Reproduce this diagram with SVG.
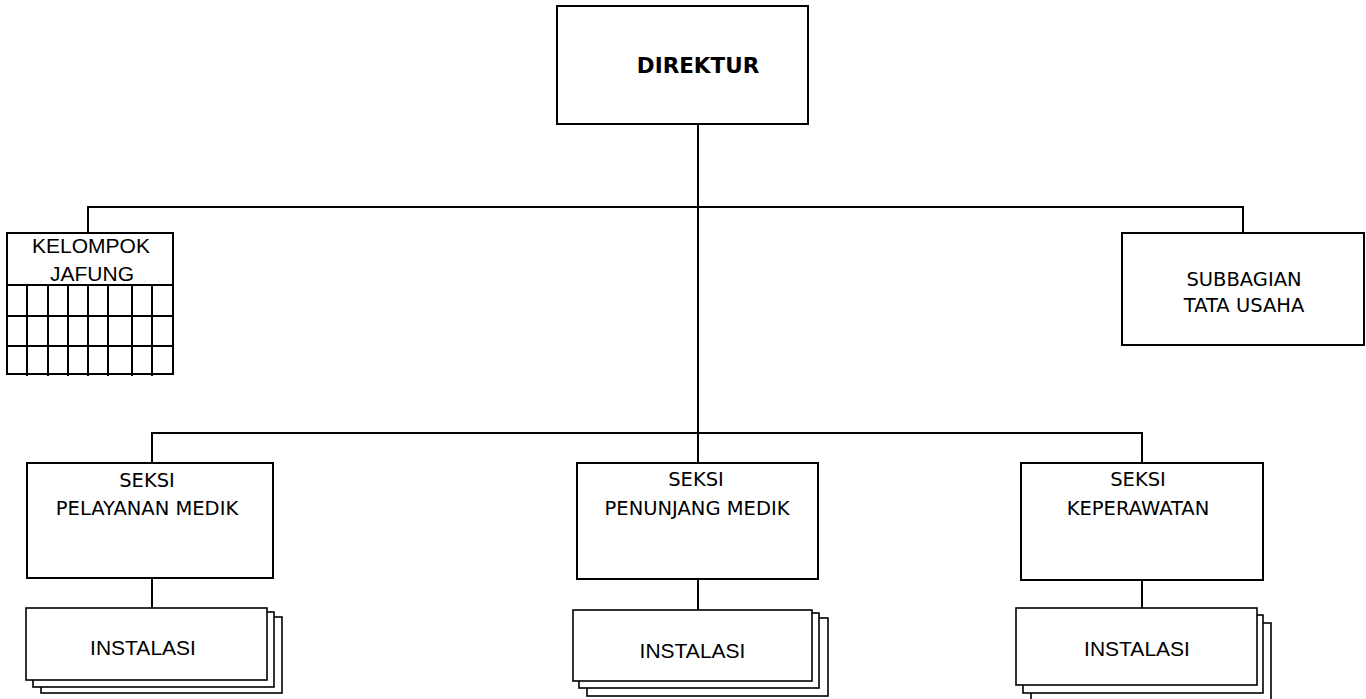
<svg xmlns="http://www.w3.org/2000/svg" width="1366" height="699" viewBox="0 0 1366 699">
<style>
.box{fill:#fff;stroke:#000;stroke-width:2}
.stk{fill:#fff;stroke:#000;stroke-width:1.6}
.ln{fill:none;stroke:#000;stroke-width:2}
.t{font-family:"DejaVu Sans",Verdana,sans-serif;font-size:19.5px;fill:#000;text-anchor:middle}
.tb{font-family:"DejaVu Sans",Verdana,sans-serif;font-size:21.5px;font-weight:bold;fill:#000;text-anchor:middle}
.a{font-family:"Liberation Sans",Arial,sans-serif;font-size:21px;fill:#000;text-anchor:middle}
</style>
<rect width="1366" height="699" fill="#fff"/>
<g id="connectors" class="ln">
<path d="M698 124V463"/>
<path d="M88 233V207H1243V233"/>
<path d="M152 463V433H1142V463"/>
<path d="M152 578V608"/>
<path d="M698 579V610"/>
<path d="M1142 580V608"/>
</g>
<g id="direktur">
<rect class="box" x="557" y="6" width="251" height="118"/>
<text class="tb" x="698" y="73">DIREKTUR</text>
</g>
<g id="kelompok-jafung">
<rect class="box" x="7" y="233" width="166" height="141"/>
<path class="ln" d="M7 285H173M7 316H173M7 346H173M27 285V376M48 285V376M68 285V376M88 285V376M108 285V376M132 285V376M152 285V376"/>
<text class="a" x="91" y="253">KELOMPOK</text>
<text class="a" x="92" y="281">JAFUNG</text>
</g>
<g id="subbagian">
<rect class="box" x="1122" y="233" width="242" height="112"/>
<text class="t" x="1244" y="286">SUBBAGIAN</text>
<text class="t" x="1244" y="312">TATA USAHA</text>
</g>
<g id="seksi-pelayanan">
<rect class="box" x="27" y="463" width="246" height="115"/>
<text class="t" x="147" y="487">SEKSI</text>
<text class="t" x="147" y="515">PELAYANAN MEDIK</text>
</g>
<g id="seksi-penunjang">
<rect class="box" x="577" y="463" width="241" height="116"/>
<text class="t" x="696" y="486">SEKSI</text>
<text class="t" x="697" y="515">PENUNJANG MEDIK</text>
</g>
<g id="seksi-keperawatan">
<rect class="box" x="1021" y="463" width="242" height="117"/>
<text class="t" x="1138" y="486">SEKSI</text>
<text class="t" x="1138" y="515">KEPERAWATAN</text>
</g>
<g id="instalasi-1">
<rect class="stk" x="41" y="617" width="241" height="76"/>
<rect class="stk" x="33" y="612" width="241" height="75"/>
<rect class="stk" x="26" y="608" width="241" height="72"/>
<text class="a" x="143" y="655">INSTALASI</text>
</g>
<g id="instalasi-2">
<rect class="stk" x="587" y="618" width="241" height="78"/>
<rect class="stk" x="579" y="613" width="240" height="75"/>
<rect class="stk" x="573" y="610" width="239" height="71"/>
<text class="a" x="692.5" y="658">INSTALASI</text>
</g>
<g id="instalasi-3">
<rect class="stk" x="1031" y="623" width="240" height="82"/>
<rect class="stk" x="1023" y="615" width="240" height="78"/>
<rect class="stk" x="1016" y="608" width="241" height="77"/>
<text class="a" x="1137" y="656">INSTALASI</text>
</g>
</svg>
